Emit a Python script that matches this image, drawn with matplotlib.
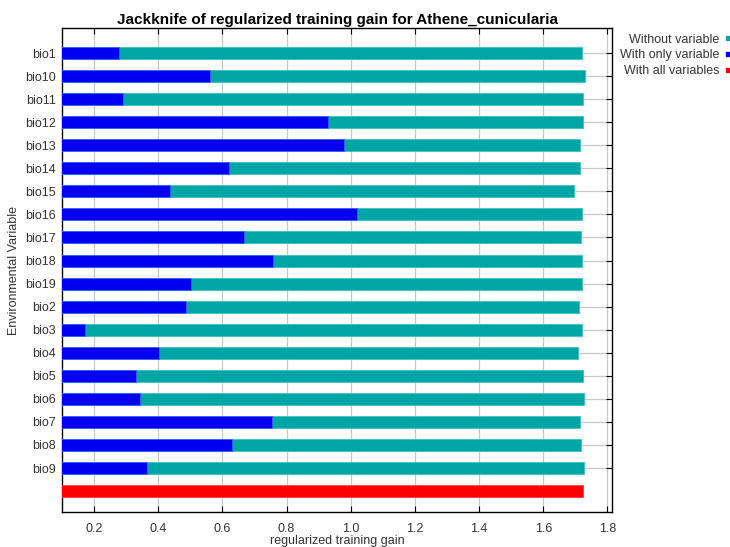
import matplotlib
matplotlib.use('Agg')
import matplotlib.pyplot as plt
from matplotlib.patches import Rectangle

plt.rcParams['font.family'] = ['Liberation Sans', 'DejaVu Sans']

variables = ['bio1', 'bio10', 'bio11', 'bio12', 'bio13', 'bio14', 'bio15', 'bio16', 'bio17',
             'bio18', 'bio19', 'bio2', 'bio3', 'bio4', 'bio5', 'bio6', 'bio7', 'bio8', 'bio9']
gain_without = [1.722, 1.731, 1.725, 1.725, 1.713, 1.713, 1.695, 1.722, 1.716,
                1.720, 1.722, 1.712, 1.719, 1.709, 1.725, 1.728, 1.713, 1.716, 1.728]
gain_only = [0.277, 0.560, 0.290, 0.930, 0.978, 0.620, 0.438, 1.018, 0.666,
             0.757, 0.501, 0.485, 0.172, 0.402, 0.330, 0.343, 0.755, 0.629, 0.366]
gain_all = 1.725
xticks = [0.2, 0.4, 0.6, 0.8, 1.0, 1.2, 1.4, 1.6, 1.8]

teal = '#00a6a6'
blue = '#0000f0'
red = '#ff0000'

fig = plt.figure(figsize=(7.3, 5.47), dpi=100)
ax = fig.add_axes([0.0845, 0.0634, 0.7545, 0.8848])

pos = list(range(len(variables)))
ax.barh(pos, gain_without, height=0.52, color=teal, edgecolor='#40c0c0', linewidth=0.6, zorder=3)
ax.barh(pos, gain_only, height=0.52, color=blue, edgecolor='#4060ff', linewidth=0.6, zorder=4)
ax.barh([len(variables)], [gain_all], height=0.52, color=red, edgecolor='#ff4040', linewidth=0.6, zorder=3)

ax.set_xlim(0.099, 1.8155)
ax.set_ylim(len(variables) + 0.92, -1.07)

ax.set_xticks(xticks)
ax.set_xticklabels(['%.1f' % t for t in xticks])
ax.set_yticks(pos)
ax.set_yticklabels(variables)

ax.tick_params(axis='x', direction='in', top=True, bottom=True, length=4, width=0.8,
               labelsize=9, pad=7.5, colors='#333333')
ax.tick_params(axis='y', direction='in', left=False, right=True, length=4, width=0.8,
               labelsize=9, pad=4, colors='#333333')
ax.tick_params(axis='both', color='black')

ax.grid(True, color='#c8c8c8', linewidth=0.9, zorder=0)
ax.set_axisbelow(True)
for s in ax.spines.values():
    s.set_color('black')
    s.set_linewidth(1.0)

ax.set_title('Jackknife of regularized training gain for Athene_cunicularia',
             fontsize=11, fontweight='bold', pad=3)
ax.set_xlabel('regularized training gain', fontsize=9, color='#333333', labelpad=0)
ax.set_ylabel('Environmental Variable', fontsize=9, color='#333333', labelpad=4)

# legend drawn as text with small colour squares at the right
labels = ['Without variable', 'With only variable', 'With all variables']
colors = [teal, blue, red]
for i in range(3):
    y = 1 - (39.6 + 15.8 * i) / 547
    fig.text(719 / 730, y, labels[i], ha='right', va='center', fontsize=9, color='#333333')
    fig.patches.append(Rectangle((725.5 / 730, y - 0.5 / 547), 3.5 / 730, 4 / 547,
                                 transform=fig.transFigure, color=colors[i]))

fig.savefig('out.png', dpi=100)
